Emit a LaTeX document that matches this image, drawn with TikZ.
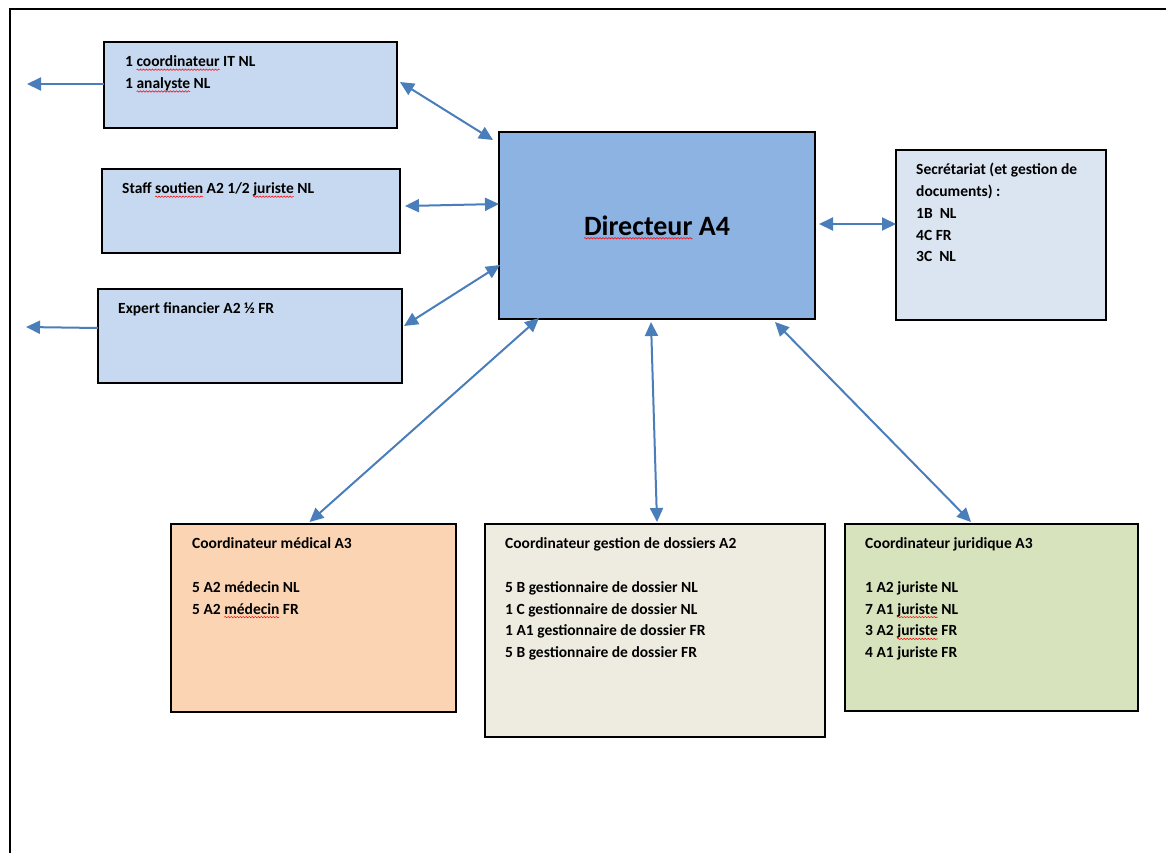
\documentclass[tikz,border=0pt]{standalone}
\usepackage{fontspec}
\setmainfont{Carlito}
\usetikzlibrary{arrows.meta,decorations.pathmorphing}
\newsavebox\sqbox
\newcommand\sqg[1]{\sbox\sqbox{#1}\tikz[baseline=0pt,x=1pt,y=1pt]{\path (0,0);
  \draw[overlay,red,line width=0.5pt,decorate,decoration={snake,amplitude=0.7pt,segment length=3pt}] (0,-3) -- (\the\wd\sqbox,-3);}\usebox\sqbox}
\definecolor{lblue}{HTML}{C6D9F1}
\definecolor{dblue}{HTML}{8DB3E2}
\definecolor{sblue}{HTML}{DBE5F1}
\definecolor{peach}{HTML}{FBD4B4}
\definecolor{beige}{HTML}{EEECE1}
\definecolor{lgreen}{HTML}{D7E3BC}
\definecolor{arrowblue}{HTML}{4A7EBB}
\tikzset{
  box/.style={draw=black, line width=1.7pt, rectangle, inner sep=0pt, outer sep=0pt},
  boxtext/.style={anchor=north west, inner sep=0pt, align=left,
    font=\fontsize{15.5}{21.8}\selectfont\bfseries},
  link/.style={draw=arrowblue, line width=2pt, {Triangle[length=14pt,width=13pt]}-{Triangle[length=14pt,width=13pt]}},
  outlink/.style={draw=arrowblue, line width=2pt, -{Triangle[length=14pt,width=13pt]}},
}
\newcommand\fl{\rule{0pt}{13pt}}
\begin{document}
\begin{tikzpicture}[x=1pt,y=-1pt]
\useasboundingbox (0,0) rectangle (1166,852);
\fill[white] (0,0) rectangle (1166,852);
% outer frame
\draw[line width=2pt] (9.5,853) -- (9.5,9) -- (1167,9);

% boxes
\node[box, fill=lblue, minimum width=293pt, minimum height=86pt] (it) at (250.5,85) {};
\node[box, fill=lblue, minimum width=298pt, minimum height=84pt] (staff) at (251,211) {};
\node[box, fill=lblue, minimum width=304pt, minimum height=94pt] (expert) at (250,336) {};
\node[box, fill=dblue, minimum width=316pt, minimum height=187pt] (dir) at (657,225.5) {};
\node[box, fill=sblue, minimum width=210pt, minimum height=170pt] (secr) at (1001,235) {};
\node[box, fill=peach, minimum width=285pt, minimum height=188pt] (med) at (313.5,618) {};
\node[box, fill=beige, minimum width=340pt, minimum height=213pt] (dos) at (655,630.5) {};
\node[box, fill=lgreen, minimum width=293pt, minimum height=187pt] (jur) at (991.5,617.5) {};

% texts
\node[boxtext] (itT) at (125,53.5) {\fl 1 \sqg{coordinateur} IT NL\\1 \sqg{analyste} NL};
\node[boxtext] (staffT) at (122,180.5) {\fl Staff \sqg{soutien} A2 1/2 \sqg{juriste} NL};
\node[boxtext] (expertT) at (118,300.5) {\fl Expert financier A2 ½ FR};
\node[font=\fontsize{28}{34}\selectfont\bfseries, inner sep=0pt] (dirT) at (dir) {\sqg{Directeur} A4};
\node[boxtext] (secrT) at (916,161.5) {\fl Secrétariat (et gestion de\\documents) :\\1B\ \ NL\\4C FR\\3C\ \ NL};
\node[boxtext] (medT) at (192,535.5) {\fl Coordinateur médical A3\\[21.8pt]5 A2 médecin NL\\5 A2 \sqg{médecin} FR};
\node[boxtext] (dosT) at (505,535.5) {\fl Coordinateur gestion de dossiers A2\\[21.8pt]5 B gestionnaire de dossier NL\\1 C gestionnaire de dossier NL\\1 A1 gestionnaire de dossier FR\\5 B gestionnaire de dossier FR};
\node[boxtext] (jurT) at (865,535.5) {\fl Coordinateur juridique A3\\[21.8pt]1 A2 juriste NL\\7 A1 \sqg{juriste} NL\\3 A2 \sqg{juriste} FR\\4 A1 juriste FR};

% free ends
\coordinate (itL) at (27,84);
\coordinate (exL) at (26,327);

% connectors
\draw[outlink] ([yshift=1pt]it.west) -- (itL);
\draw[outlink] ([yshift=8pt]expert.west) -- (exL);
\draw[link] ([shift={(3,-3)}]it.east) -- ([shift={(-6,8)}]dir.north west);
\draw[link] ([shift={(5,-5)}]staff.east) -- ([shift={(0,-21.5)}]dir.west);
\draw[link] ([shift={(2,-10)}]expert.east) -- ([shift={(1,39.5)}]dir.west);
\draw[link] ([shift={(4,-1.5)}]dir.east) -- ([shift={(0,-11)}]secr.west);
\draw[link] ([shift={(-4,-2)}]med.north) -- ([shift={(40,-1)}]dir.south west);
\draw[link] ([shift={(2,-2)}]dos.north) -- ([shift={(-6,3)}]dir.south);
\draw[link] ([shift={(-20.5,-2)}]jur.north) -- ([shift={(118,3)}]dir.south);
\end{tikzpicture}
\end{document}
